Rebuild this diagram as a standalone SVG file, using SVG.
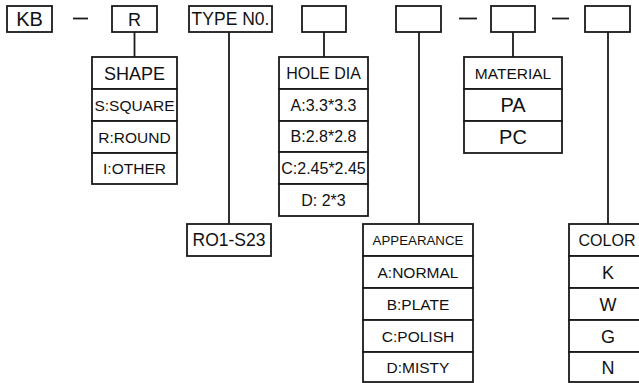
<svg xmlns="http://www.w3.org/2000/svg" width="639" height="383" viewBox="0 0 639 383">
<style>
rect{fill:#fff;stroke:#1a1a1a;stroke-width:1.8}
line{stroke:#1a1a1a;stroke-width:1.8}
text{font-family:"Liberation Sans",Arial,sans-serif;fill:#111;text-anchor:middle}
.t20{font-size:20px}.t18{font-size:18px}.t17{font-size:17.5px}.t16{font-size:16px}.t15{font-size:15.5px}.t13{font-size:13.3px}
</style>
<rect x="0" y="0" width="639" height="383" style="stroke:none"/>
<g id="connectors">
<line x1="73" y1="18.5" x2="88" y2="18.5"/>
<line x1="459" y1="18.5" x2="477" y2="18.5"/>
<line x1="552" y1="18.5" x2="569" y2="18.5"/>
<line x1="134.5" y1="32" x2="134.5" y2="57"/>
<line x1="229" y1="32" x2="229" y2="224"/>
<line x1="324" y1="32" x2="324" y2="57"/>
<line x1="419" y1="32" x2="419" y2="224"/>
<line x1="513" y1="32" x2="513" y2="57"/>
<line x1="608" y1="32" x2="608" y2="224"/>
</g>
<g id="kb"><rect x="7" y="6" width="45" height="26"/><text class="t20" x="29.5" y="26.2">KB</text></g>
<g id="r"><rect x="112" y="6" width="45" height="26"/><text class="t18" x="134.5" y="25.5">R</text></g>
<g id="type"><rect x="189" y="6" width="83" height="26"/><text class="t17" x="230.5" y="25.3">TYPE N0.</text></g>
<g id="box2"><rect x="302" y="6" width="44" height="26"/></g>
<g id="box3"><rect x="396" y="6" width="45" height="26"/></g>
<g id="box4"><rect x="491" y="6" width="44" height="26"/></g>
<g id="box5"><rect x="585" y="6" width="45" height="26"/></g>
<g id="shape">
<rect x="92" y="57" width="85" height="32"/><rect x="92" y="89" width="85" height="32"/><rect x="92" y="121" width="85" height="32"/><rect x="92" y="153" width="85" height="31"/>
<text class="t18" x="134.5" y="79.5">SHAPE</text>
<text class="t15" x="134.5" y="110.6">S:SQUARE</text>
<text class="t15" x="134.5" y="142.6">R:ROUND</text>
<text class="t15" x="134.5" y="174">I:OTHER</text>
</g>
<g id="holedia">
<rect x="279" y="57" width="89" height="32"/><rect x="279" y="89" width="89" height="32"/><rect x="279" y="121" width="89" height="31"/><rect x="279" y="152" width="89" height="32"/><rect x="279" y="184" width="89" height="32"/>
<text class="t16" x="323.5" y="78.8">HOLE DIA</text>
<text class="t16" x="323.5" y="110.8">A:3.3*3.3</text>
<text class="t16" x="323.5" y="142.3">B:2.8*2.8</text>
<text class="t16" x="323.5" y="173.8">C:2.45*2.45</text>
<text class="t16" x="323.5" y="205.8">D: 2*3</text>
</g>
<g id="material">
<rect x="464" y="57" width="98" height="32"/><rect x="464" y="89" width="98" height="32"/><rect x="464" y="121" width="98" height="32"/>
<text class="t15" x="513" y="78.6">MATERIAL</text>
<text class="t20" x="513" y="112.2">PA</text>
<text class="t20" x="513" y="144.2">PC</text>
</g>
<g id="typeno"><rect x="187" y="224" width="84" height="32"/><text class="t17" x="229" y="246.3">RO1-S23</text></g>
<g id="appearance">
<rect x="363" y="224" width="110" height="32"/><rect x="363" y="256" width="110" height="32"/><rect x="363" y="288" width="110" height="32"/><rect x="363" y="320" width="110" height="32"/><rect x="363" y="352" width="110" height="30"/>
<text class="t13" x="418" y="244.8">APPEARANCE</text>
<text class="t15" x="418" y="277.6">A:NORMAL</text>
<text class="t15" x="418" y="309.6">B:PLATE</text>
<text class="t15" x="418" y="341.6">C:POLISH</text>
<text class="t15" x="418" y="372.6">D:MISTY</text>
</g>
<g id="color">
<rect x="569" y="224" width="78" height="32"/><rect x="569" y="256" width="78" height="32"/><rect x="569" y="288" width="78" height="32"/><rect x="569" y="320" width="78" height="32"/><rect x="569" y="352" width="78" height="30"/>
<text class="t16" x="607" y="245.8">COLOR</text>
<text class="t18" x="608" y="278.5">K</text>
<text class="t18" x="608" y="310.5">W</text>
<text class="t18" x="608" y="342.5">G</text>
<text class="t18" x="608" y="373.5">N</text>
</g>
</svg>
